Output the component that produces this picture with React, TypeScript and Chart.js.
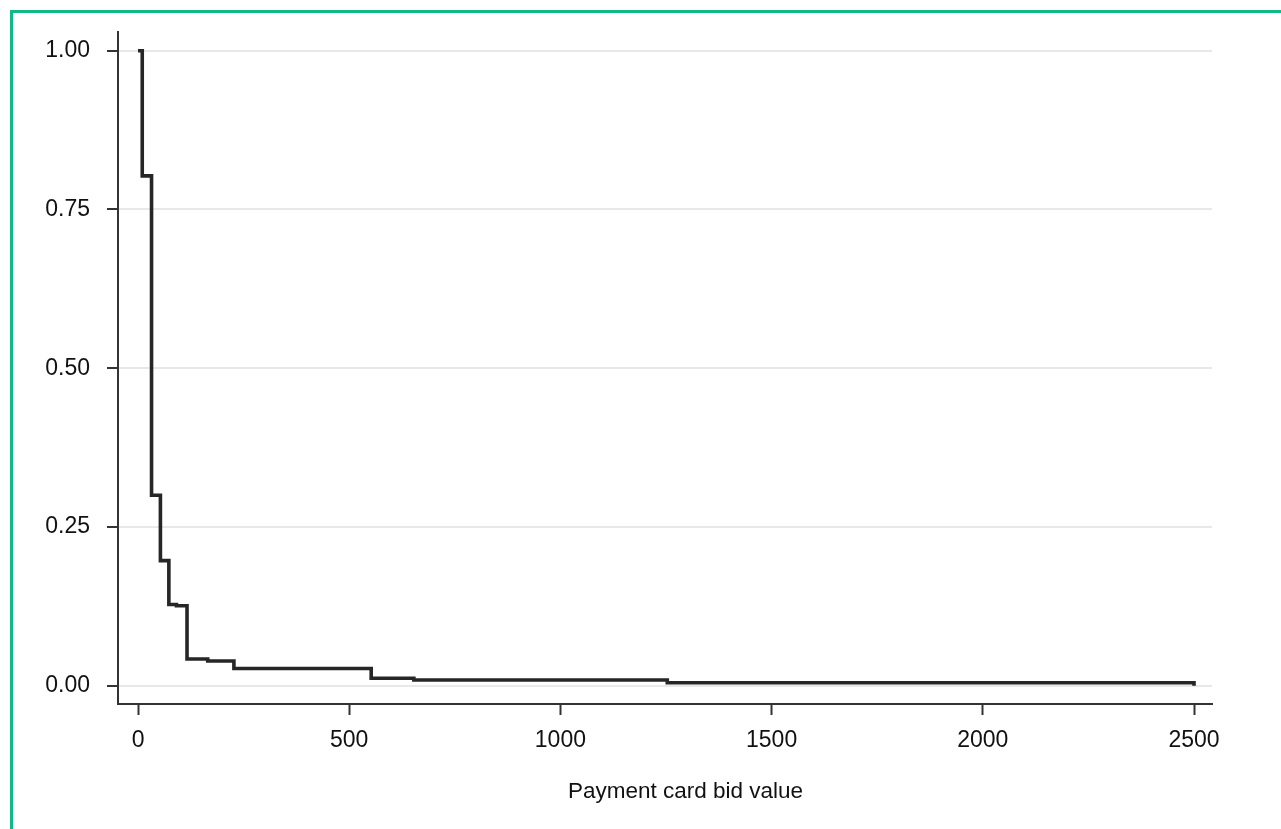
import React, { useEffect, useRef } from "react";
import { Chart, registerables } from "chart.js";

Chart.register(...registerables);

// Data (step function of share of bids >= value)
const bidValues = [0, 10, 32, 53, 73, 91, 116, 165, 227, 552, 653, 1253, 2500];
const shareAtOrAbove = [1.0, 0.803, 0.3, 0.197, 0.128, 0.126, 0.042, 0.039, 0.027, 0.0117, 0.009, 0.0047, 0.0];
const xTickValues = [0, 500, 1000, 1500, 2000, 2500];
const yTickValues = [0, 0.25, 0.5, 0.75, 1.0];
const xAxisTitle = "Payment card bid value";

const FONT = '"Liberation Sans", Arial, Helvetica, sans-serif';
const AXIS_COLOR = "#333333";
const TEXT_COLOR = "#111111";

const titlePlugin = {
  id: "xAxisTitleText",
  afterDraw(chart: any) {
    const ctx = chart.ctx;
    ctx.save();
    ctx.font = `22.5px ${FONT}`;
    ctx.fillStyle = TEXT_COLOR;
    ctx.textAlign = "center";
    ctx.textBaseline = "alphabetic";
    ctx.fillText(xAxisTitle, 685.5, 798);
    ctx.restore();
  },
};

export default function App() {
  const canvasRef = useRef<HTMLCanvasElement | null>(null);

  useEffect(() => {
    const canvas = canvasRef.current;
    if (!canvas) return;
    const points = bidValues.map((x, i) => ({ x, y: shareAtOrAbove[i] }));
    const chart = new Chart(canvas, {
      type: "line",
      data: {
        datasets: [
          {
            data: points,
            stepped: "before",
            borderColor: "#262626",
            borderWidth: 3.6,
            borderJoinStyle: "miter",
            borderCapStyle: "butt",
            pointRadius: 0,
            fill: false,
          } as any,
        ],
      },
      options: {
        responsive: false,
        animation: false,
        devicePixelRatio: 1,
        layout: { padding: { top: 31.7, right: 69, left: 0, bottom: 0 } },
        plugins: {
          legend: { display: false },
          tooltip: { enabled: false },
          title: { display: false },
        },
        scales: {
          x: {
            type: "linear",
            min: -47.4,
            max: 2542.6,
            afterBuildTicks: (scale: any) => {
              scale.ticks = xTickValues.map((v) => ({ value: v }));
            },
            afterFit: (scale: any) => {
              scale.height = 125;
            },
            grid: {
              display: true,
              drawOnChartArea: false,
              drawTicks: true,
              tickLength: 11,
              tickWidth: 2,
              tickColor: AXIS_COLOR,
            },
            border: { display: true, color: AXIS_COLOR, width: 2 },
            ticks: {
              autoSkip: false,
              maxRotation: 0,
              padding: 12,
              color: TEXT_COLOR,
              font: { family: FONT, size: 23 },
              callback: (v: any) => String(v),
            },
          },
          y: {
            type: "linear",
            min: -0.0288,
            max: 1.03,
            afterBuildTicks: (scale: any) => {
              scale.ticks = yTickValues.map((v) => ({ value: v }));
            },
            afterFit: (scale: any) => {
              scale.width = 118;
            },
            grid: {
              display: true,
              drawOnChartArea: true,
              drawTicks: true,
              color: "#e8e8e8",
              lineWidth: 2,
              tickLength: 11,
              tickWidth: 2,
              tickColor: AXIS_COLOR,
            },
            border: { display: true, color: AXIS_COLOR, width: 2 },
            ticks: {
              autoSkip: false,
              padding: 17,
              color: TEXT_COLOR,
              font: { family: FONT, size: 23 },
              callback: (v: any) => Number(v).toFixed(2),
            },
          },
        },
      } as any,
      plugins: [titlePlugin],
    });
    return () => chart.destroy();
  }, []);

  return (
    <div
      style={{
        position: "absolute",
        left: 0,
        top: 0,
        width: 1281,
        height: 829,
        overflow: "hidden",
        background: "#ffffff",
      }}
    >
      <div
        style={{
          position: "absolute",
          left: 9.5,
          top: 10,
          width: 1400,
          height: 1000,
          borderTop: "3px solid #12b886",
          borderLeft: "3px solid #12b886",
          boxSizing: "border-box",
        }}
      />
      <canvas
        ref={canvasRef}
        width={1281}
        height={829}
        style={{ position: "absolute", left: 0, top: 0, width: 1281, height: 829 }}
      />
    </div>
  );
}
